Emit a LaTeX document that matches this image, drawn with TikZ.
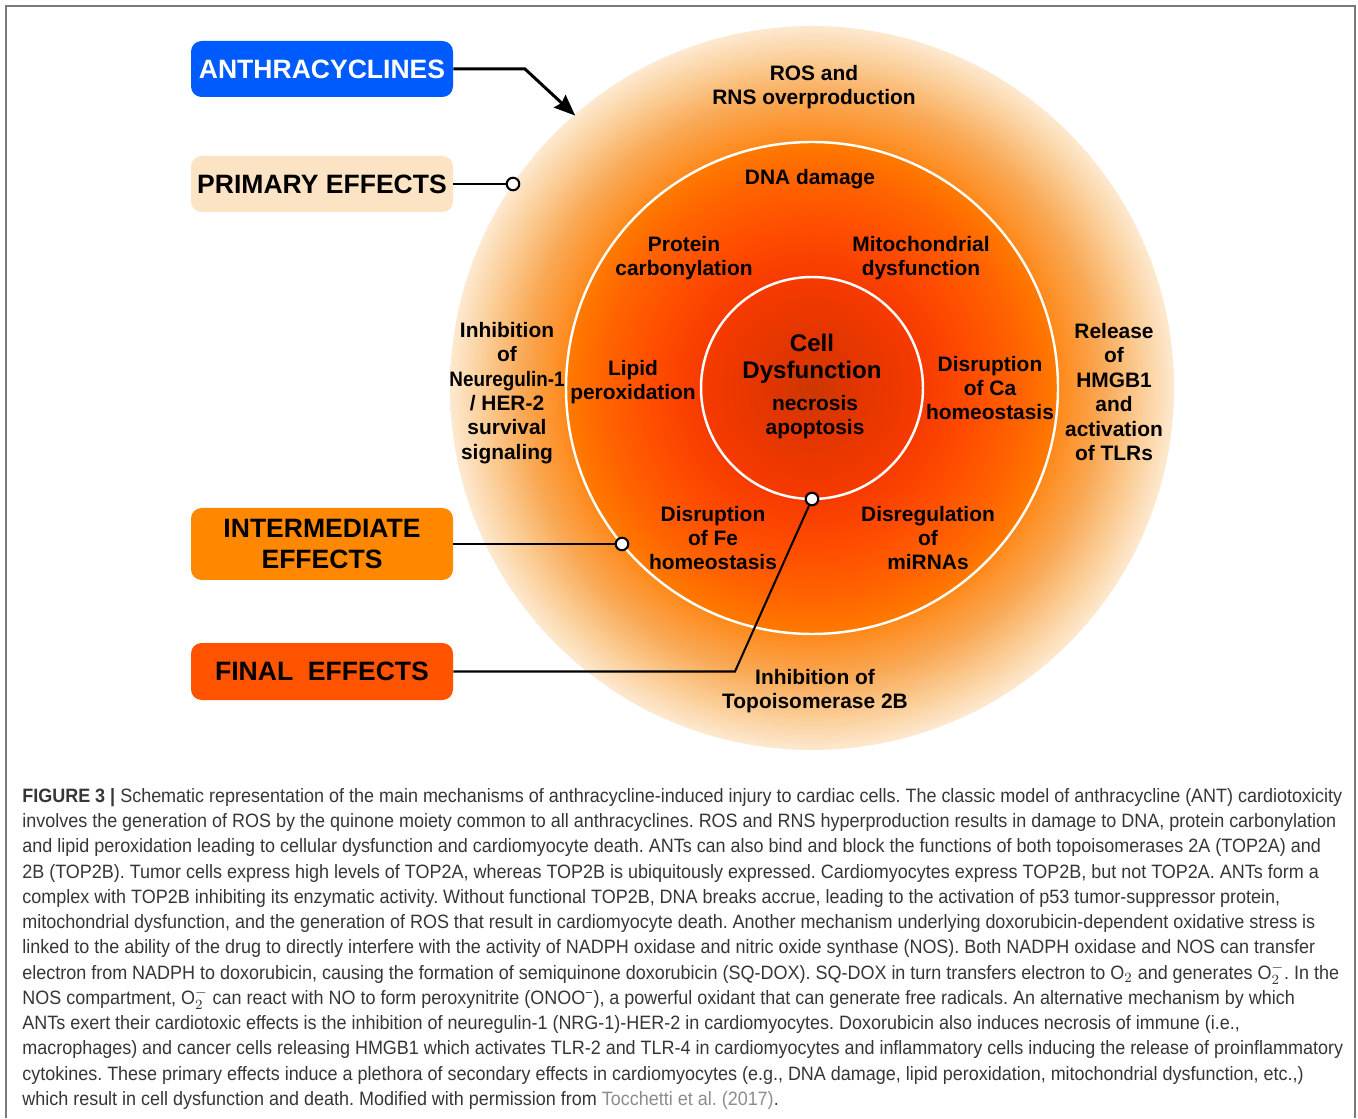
\documentclass[tikz,border=0pt]{standalone}
\usepackage{fontspec}
\usepackage{graphicx}
\setmainfont{Liberation Sans}
\newfontfamily\capfont[FakeStretch=0.93]{Liberation Sans}
\usetikzlibrary{arrows.meta,positioning,calc}
\frenchspacing
\definecolor{fig-anth}{HTML}{005BFF}
\definecolor{fig-primary}{HTML}{FCE3C3}
\definecolor{fig-inter}{HTML}{FF8800}
\definecolor{fig-final}{HTML}{FF5300}
\definecolor{fig-frame}{HTML}{7A7A7A}
\definecolor{fig-caption}{HTML}{363636}
\definecolor{fig-link}{HTML}{8C8C8C}
\definecolor{glow-core}{RGB}{205,55,0}
\definecolor{glow-deep}{RGB}{224,53,0}
\definecolor{glow-red}{RGB}{246,58,0}
\definecolor{glow-redor}{RGB}{255,76,0}
\definecolor{glow-or}{RGB}{255,100,0}
\definecolor{glow-rim}{RGB}{255,122,0}
\definecolor{glow-out}{RGB}{255,138,28}
\definecolor{glow-mid}{RGB}{249,168,84}
\definecolor{glow-pale}{RGB}{251,206,152}
\definecolor{glow-edge}{RGB}{253,233,208}
\pgfdeclareradialshading{glow}{\pgfpoint{0bp}{0bp}}{%
  color(0bp)=(glow-core); color(2.8bp)=(glow-deep); color(7.6bp)=(glow-red);
  color(11bp)=(glow-redor); color(14.5bp)=(glow-or); color(16.95bp)=(glow-rim);
  color(17.1bp)=(glow-out); color(20bp)=(glow-mid); color(22.8bp)=(glow-pale);
  color(25bp)=(glow-edge); color(50bp)=(white)}
\newcommand{\oxy}{O$_{2}$}
\newcommand{\supox}{O$_{2}^{-}$}

\begin{document}
\begin{tikzpicture}[
    font=\bfseries\fontsize{11.9}{13.9}\selectfont,
    label/.style={align=center, inner sep=0pt, text=black},
    tag/.style={rounded corners=6pt, minimum width=5.24cm, align=center, inner sep=0pt,
        font=\bfseries\fontsize{15.1}{17.2}\selectfont},
    pin/.style={circle, fill=white, draw=black, line width=1.2pt, minimum size=0.25cm, inner sep=0pt},
    wire/.style={draw=black, line width=1.15pt},
    ring/.style={draw=white, line width=1.4pt},
]
\path[use as bounding box] (0,0) rectangle (27.16,22.36);
\draw[fig-frame, line width=0.8pt] (0.12,0) -- (0.12,22.24) -- (27.10,22.24) -- (27.10,0);

\coordinate (core) at (16.24,14.60);
\shade[shading=glow] (core) circle (7.24);
\draw[ring] (core) circle (4.92);
\draw[ring] (core) circle (2.22);

\node[label] (ros) at (16.28,20.62) {ROS and\\RNS overproduction};
\node[label] (dna) at (16.20,18.78) {DNA damage};
\node[label] (prot) at (13.68,17.20) {Protein\\carbonylation};
\node[label] (mito) at (18.42,17.20) {Mitochondrial\\dysfunction};
\node[label] (nrg) at (10.14,14.50) {Inhibition\\of\\\scalebox{0.9}[1]{Neuregulin-1}\\/ HER-2\\survival\\signaling};
\node[label] (lipid) at (12.66,14.72) {Lipid\\peroxidation};
\node[label, font=\bfseries\fontsize{13.7}{15.4}\selectfont] (cell) at (16.24,15.18) {Cell\\Dysfunction};
\node[label] (death) at (16.30,14.02) {necrosis\\apoptosis};
\node[label] (ca) at (19.80,14.60) {Disruption\\of Ca\\homeostasis};
\node[label] (hmgb) at (22.28,14.52) {Release\\of\\HMGB1\\and\\activation\\of TLRs};
\node[label] (fe) at (14.26,11.60) {Disruption\\of Fe\\homeostasis};
\node[label] (mirna) at (18.56,11.60) {Disregulation\\of\\miRNAs};
\node[label] (topo) at (16.30,8.54) {Inhibition of\\Topoisomerase 2B};

\node[tag, fill=fig-anth, text=white, minimum height=1.12cm] (anth) at (6.44,20.98) {ANTHRACYCLINES};
\node[tag, fill=fig-primary, minimum height=1.12cm] (prim) at (6.44,18.68) {PRIMARY EFFECTS};
\node[tag, fill=fig-inter, minimum height=1.44cm] (inter) at (6.44,11.48) {INTERMEDIATE\\EFFECTS};
\node[tag, fill=fig-final, minimum height=1.14cm] (final) at (6.44,8.93) {FINAL\ \ EFFECTS};

\node[pin] (pprim) at (10.26,18.68) {};
\node[pin] (pinter) at (12.44,11.48) {};
\node[pin] (pfinal) at ($(core)+(0,-2.22)$) {};
\coordinate (abend) at (10.50,20.98);
\coordinate (ahit) at ($(core)+(131:7.22)$);
\coordinate (fbend) at (14.70,8.93);
\draw[wire, line width=1.7pt, -{Stealth[length=0.42cm,width=0.34cm,inset=0.05cm]}] (anth.east) -- (abend) -- (ahit);
\draw[wire] (prim.east) -- (pprim);
\draw[wire] (inter.east) -- (pinter);
\draw[wire] (final.east) -- (fbend) -- (pfinal);

\node[anchor=north west, inner sep=0pt, align=left, text=fig-caption,
    font=\capfont\mdseries\fontsize{11}{14.37}\selectfont] (caption) at (0.44,6.60)
{\textbf{FIGURE 3 |} Schematic representation of the main mechanisms of anthracycline-induced injury to cardiac cells. The classic model of anthracycline (ANT) cardiotoxicity\\
involves the generation of ROS by the quinone moiety common to all anthracyclines. ROS and RNS hyperproduction results in damage to DNA, protein carbonylation\\
and lipid peroxidation leading to cellular dysfunction and cardiomyocyte death. ANTs can also bind and block the functions of both topoisomerases 2A (TOP2A) and\\
2B (TOP2B). Tumor cells express high levels of TOP2A, whereas TOP2B is ubiquitously expressed. Cardiomyocytes express TOP2B, but not TOP2A. ANTs form a\\
complex with TOP2B inhibiting its enzymatic activity. Without functional TOP2B, DNA breaks accrue, leading to the activation of p53 tumor-suppressor protein,\\
mitochondrial dysfunction, and the generation of ROS that result in cardiomyocyte death. Another mechanism underlying doxorubicin-dependent oxidative stress is\\
linked to the ability of the drug to directly interfere with the activity of NADPH oxidase and nitric oxide synthase (NOS). Both NADPH oxidase and NOS can transfer\\
electron from NADPH to doxorubicin, causing the formation of semiquinone doxorubicin (SQ-DOX). SQ-DOX in turn transfers electron to \oxy{} and generates \supox{}. In the\\
NOS compartment, \supox{} can react with NO to form peroxynitrite (ONOO\textsuperscript{−}), a powerful oxidant that can generate free radicals. An alternative mechanism by which\\
ANTs exert their cardiotoxic effects is the inhibition of neuregulin-1 (NRG-1)-HER-2 in cardiomyocytes. Doxorubicin also induces necrosis of immune (i.e.,\\
macrophages) and cancer cells releasing HMGB1 which activates TLR-2 and TLR-4 in cardiomyocytes and inflammatory cells inducing the release of proinflammatory\\
cytokines. These primary effects induce a plethora of secondary effects in cardiomyocytes (e.g., DNA damage, lipid peroxidation, mitochondrial dysfunction, etc.,)\\
which result in cell dysfunction and death. Modified with permission from \textcolor{fig-link}{Tocchetti et al. (2017)}.};
\end{tikzpicture}
\end{document}
